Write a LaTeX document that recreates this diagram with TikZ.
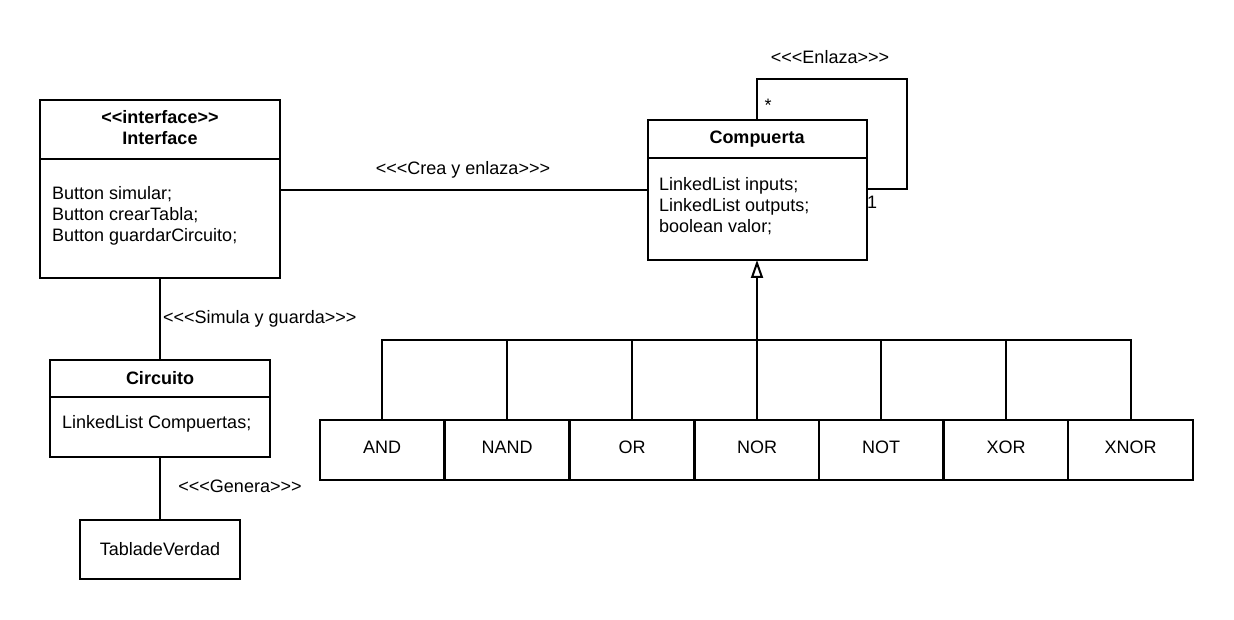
\documentclass[tikz,border=0pt]{standalone}
\usepackage{fontspec}
\setmainfont{Liberation Sans}
\usetikzlibrary{arrows.meta}
\newcommand\mylt{<\kern0pt}
\newcommand\mygt{>\kern0pt}
\begin{document}
\begin{tikzpicture}[x=1pt,y=-1pt,
  every node/.style={font=\fontsize{18}{21}\selectfont},
  box/.style={draw,line width=2pt,rectangle,inner sep=0pt,outer sep=0pt},
  head/.style={box,font=\fontsize{18}{21}\selectfont\bfseries,align=center},
  gate/.style={box,minimum width=124.7,minimum height=60,text depth=5pt},
  lbl/.style={inner sep=0pt,align=left},
  conn/.style={line width=2pt}]
\useasboundingbox (0,0) rectangle (1234,620);
\fill[white] (0,0) rectangle (1234,620);

% Interface
\node[head,minimum width=240,minimum height=59,text depth=4pt] (ifh) at (160,129.5)
  {\mylt\mylt interface\mygt\mygt\\Interface};
\node[box,minimum width=240,minimum height=119] (ifb) at (160,218.5) {};
\node[lbl,anchor=west] (ift) at (52,216)
  {Button simular;\\Button crearTabla;\\Button guardarCircuito;};

% Compuerta
\node[head,minimum width=219,minimum height=38] (comph) at (757,139) {Compuerta};
\node[box,minimum width=219,minimum height=102] (compb) at (757,209) {};
\node[lbl,anchor=west] (compt) at (659,206)
  {LinkedList inputs;\\LinkedList outputs;\\boolean valor;};

% Circuito
\node[head,minimum width=220,minimum height=37] (cirh) at (160,378.5) {Circuito};
\node[box,minimum width=220,minimum height=60] (cirb) at (160,427) {};
\node[lbl,anchor=west] (cirt) at (62,424) {LinkedList Compuertas;};

% TabladeVerdad
\node[box,minimum width=160,minimum height=59] (tab) at (160,549.5) {TabladeVerdad};

% Gates
\node[gate] (gand)  at (382,450) {AND};
\node[gate] (gnand) at (507,450) {NAND};
\node[gate] (gor)   at (632,450) {OR};
\node[gate] (gnor)  at (757,450) {NOR};
\node[gate] (gnot)  at (881,450) {NOT};
\node[gate] (gxor)  at (1006,450) {XOR};
\node[gate] (gxnor) at (1130.5,450) {XNOR};

% Inheritance tree
\coordinate (bus) at (757,340);
\foreach \g in {gand,gnand,gor,gnor,gnot,gxor,gxnor}
  \draw[conn] (\g.north) |- (bus);
\draw[conn,-{Triangle[open,length=18pt,width=12pt]}] (bus) -- (compb.south);

% Interface -- Compuerta
\coordinate (assoc) at (0,190);
\draw[conn] (ifb.east |- assoc) -- (compb.west |- assoc);
\node[lbl] (lcrea) at (463,170) {\mylt\mylt\mylt Crea y enlaza\mygt\mygt\mygt};

% Interface -- Circuito
\draw[conn] (ifb.south) -- (cirh.north);
\node[lbl,anchor=west] (lsim) at (163,319) {\mylt\mylt\mylt Simula y guarda\mygt\mygt\mygt};

% Circuito -- Tabla
\draw[conn] (cirb.south) -- (tab.north);
\node[lbl] (lgen) at (240,486) {\mylt\mylt\mylt Genera\mygt\mygt\mygt};

% Self association
\coordinate (loop) at (907,79);
\draw[conn] (comph.north) |- (loop) |- ([yshift=20pt]compb.east);
\node[lbl] (lenl) at (830,57) {\mylt\mylt\mylt Enlaza\mygt\mygt\mygt};
\node[lbl] (lstar) at (768,105) {*};
\node[lbl] (lone) at (872,202) {1};
\end{tikzpicture}
\end{document}
